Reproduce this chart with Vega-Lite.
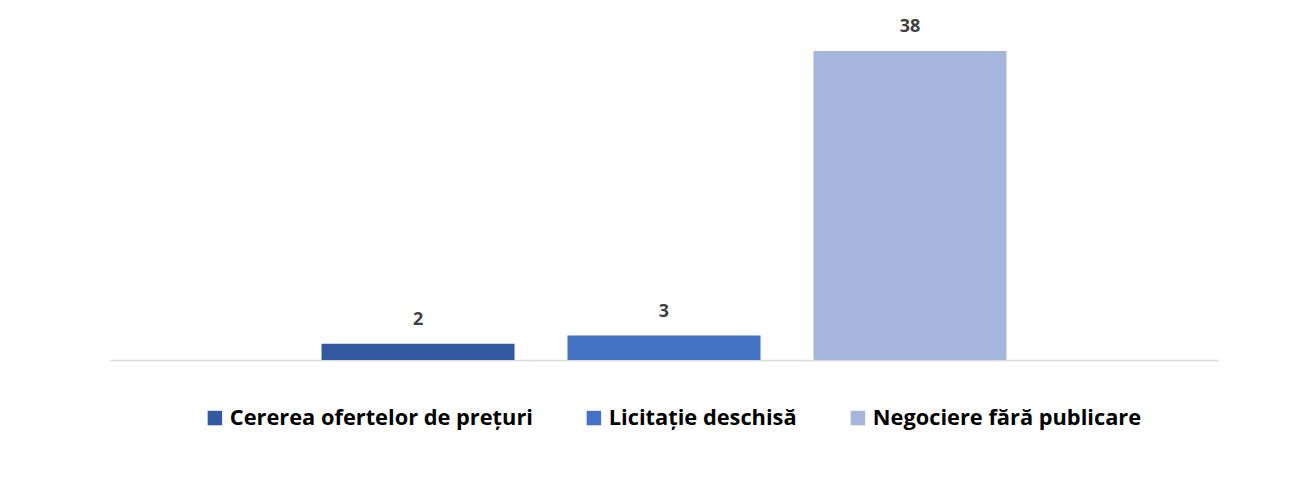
{
  "$schema": "https://vega.github.io/schema/vega-lite/v6.json",
  "width": 1108,
  "height": 309,
  "autosize": "none",
  "padding": {"left": 110, "top": 51, "right": 97, "bottom": 117},
  "background": "white",
  "config": {"view": {"stroke": null}, "font": "Open Sans"},
  "data": {"values": [
    {"series": "Cererea ofertelor de prețuri", "value": 2},
    {"series": "Licitație deschisă", "value": 3},
    {"series": "Negociere fără publicare", "value": 38}
  ]},
  "encoding": {
    "x": {
      "field": "series", "type": "nominal", "sort": null,
      "scale": {"paddingInner": 0.2154, "paddingOuter": 0.86},
      "axis": {"labels": false, "ticks": false, "title": null, "domainColor": "#d9d9d9", "domainWidth": 1.5}
    },
    "y": {
      "field": "value", "type": "quantitative",
      "scale": {"domain": [0, 38], "nice": false},
      "axis": null
    }
  },
  "layer": [
    {
      "mark": {"type": "bar"},
      "encoding": {
        "color": {
          "field": "series", "type": "nominal", "sort": null,
          "scale": {
            "domain": ["Cererea ofertelor de prețuri", "Licitație deschisă", "Negociere fără publicare"],
            "range": ["#335AA1", "#4472C4", "#A6B5DB"]
          },
          "legend": {
            "orient": "none", "legendX": 94, "legendY": 356,
            "direction": "horizontal", "title": null,
            "symbolType": "square", "symbolSize": 210, "symbolStrokeWidth": 0,
            "labelFont": "Open Sans", "labelFontSize": 21.8, "labelFontWeight": "bold",
            "labelColor": "#000000", "labelLimit": 400, "columnPadding": 50, "labelOffset": 4
          }
        }
      }
    },
    {
      "mark": {"type": "text", "baseline": "bottom", "dy": -15, "fontSize": 18, "fontWeight": "bold", "color": "#404040", "font": "Open Sans"},
      "encoding": {"text": {"field": "value", "type": "quantitative"}}
    }
  ]
}
